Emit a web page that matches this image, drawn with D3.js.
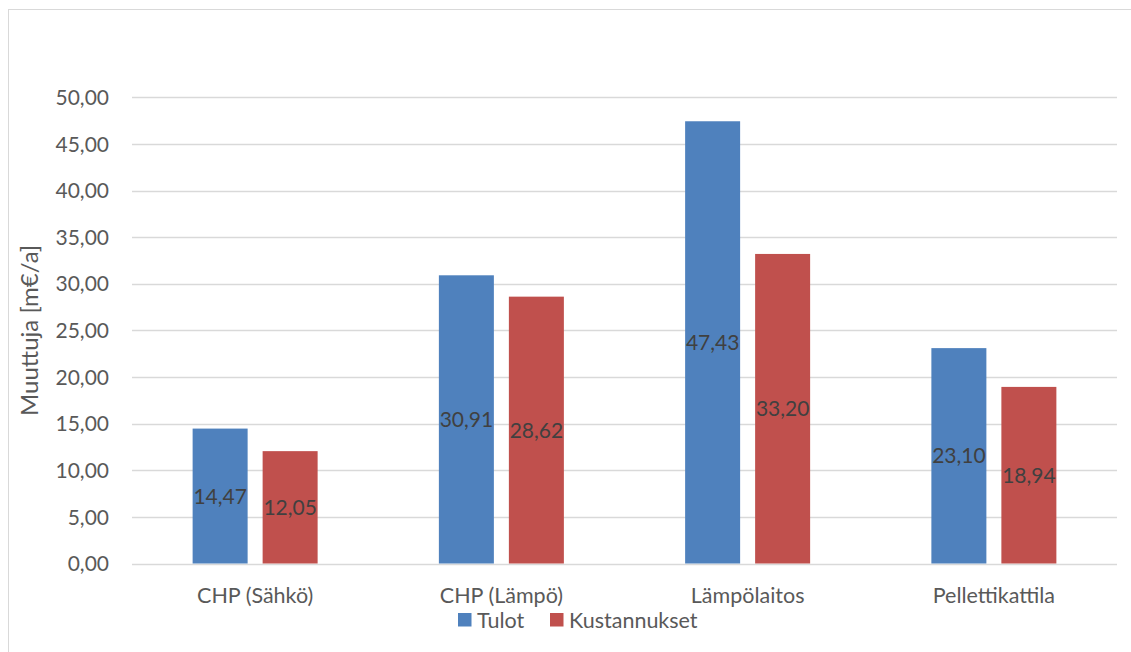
<!DOCTYPE html>
<html>
<head>
<meta charset="utf-8">
<script src="https://cdn.jsdelivr.net/npm/d3@7"></script>
<style>
  html, body { margin: 0; padding: 0; background: #fff; }
  svg { display: block; }
  text { font-family: Lato, "Open Sans", sans-serif; }
</style>
</head>
<body>
<svg id="chart" width="1131" height="652"></svg>
<script>
// Revenue vs. cost per production unit (m€/a)
const categories = ["CHP (Sähkö)", "CHP (Lämpö)", "Lämpölaitos", "Pellettikattila"];
const seriesNames = ["Tulot", "Kustannukset"];
const tulot = [14.47, 30.91, 47.43, 23.10];
const kustannukset = [12.05, 28.62, 33.20, 18.94];
const yTicks = [0, 5, 10, 15, 20, 25, 30, 35, 40, 45, 50];
const colors = ["#4F81BD", "#C0504D"];

const svg = d3.select("#chart");
const W = 1131, H = 652;

// chart frame
svg.append("rect")
  .attr("x", 8.5).attr("y", 9.5)
  .attr("width", W + 10).attr("height", H + 10)
  .attr("fill", "#fff").attr("stroke", "#D9D9D9").attr("stroke-width", 1);

const plot = { left: 132, right: 1117, top: 97.3, bottom: 563.5 };

const x0 = d3.scaleBand()
  .domain(categories)
  .range([plot.left, plot.right])
  .paddingInner(0).paddingOuter(0);

const y = d3.scaleLinear().domain([0, 50]).range([plot.bottom, plot.top]);

// bar geometry inside each category slot
const barW = 55, barGap = 15;
const x1 = d3.scaleOrdinal()
  .domain(seriesNames)
  .range([-(barW + barGap / 2), barGap / 2]);

const fmt = v => d3.format(".2f")(v).replace(".", ",");

// horizontal gridlines
svg.append("g")
  .selectAll("line")
  .data(yTicks)
  .join("line")
  .attr("x1", plot.left).attr("x2", plot.right)
  .attr("y1", d => Math.round(y(d)) + 0.5)
  .attr("y2", d => Math.round(y(d)) + 0.5)
  .attr("stroke", "#D9D9D9").attr("stroke-width", 1.3);

// y-axis tick labels
const yAxis = d3.axisLeft(y).tickValues(yTicks).tickFormat(fmt).tickSize(0).tickPadding(0);
const yG = svg.append("g").attr("transform", `translate(${plot.left - 23},0)`).call(yAxis);
yG.select(".domain").remove();
yG.selectAll("text")
  .attr("font-size", 21).attr("fill", "#595959")
  .attr("font-family", "Lato, 'Open Sans', sans-serif")
  .attr("dy", "0.34em");

// y-axis title
svg.append("text")
  .attr("transform", `translate(38,${(plot.top + plot.bottom) / 2 - 0}) rotate(-90)`)
  .attr("text-anchor", "middle")
  .attr("font-size", 24).attr("fill", "#595959")
  .text("Muuttuja [m€/a]");

// bars
const rows = categories.map((c, i) => ({ cat: c, vals: [tulot[i], kustannukset[i]] }));
const groups = svg.append("g")
  .selectAll("g")
  .data(rows)
  .join("g")
  .attr("transform", d => `translate(${x0(d.cat) + x0.bandwidth() / 2},0)`);

const bars = groups.selectAll("g.bar")
  .data(d => d.vals.map((v, j) => ({ name: seriesNames[j], v, j })))
  .join("g").attr("class", "bar");

bars.append("rect")
  .attr("x", d => x1(d.name))
  .attr("width", barW)
  .attr("y", d => y(d.v))
  .attr("height", d => y(0) - y(d.v))
  .attr("fill", d => colors[d.j]);

// value labels centred in each bar
bars.append("text")
  .attr("x", d => x1(d.name) + barW / 2)
  .attr("y", d => (y(0) + y(d.v)) / 2)
  .attr("dy", "0.36em")
  .attr("text-anchor", "middle")
  .attr("font-size", 21).attr("fill", "#404040")
  .text(d => fmt(d.v));

// category labels
const xAxis = d3.axisBottom(x0).tickSize(0).tickPadding(0);
const xG = svg.append("g").attr("transform", `translate(0,${plot.bottom})`).call(xAxis);
xG.select(".domain").remove();
xG.selectAll("text")
  .attr("font-size", 21.5).attr("fill", "#595959")
  .attr("font-family", "Lato, 'Open Sans', sans-serif")
  .attr("dy", 0).attr("y", 39);

// legend
const legendItems = [
  { name: seriesNames[0], color: colors[0], x: 458 },
  { name: seriesNames[1], color: colors[1], x: 550 }
];
const lg = svg.append("g").selectAll("g").data(legendItems).join("g")
  .attr("transform", d => `translate(${d.x},613)`);
lg.append("rect").attr("width", 13.5).attr("height", 13.5).attr("fill", d => d.color);
lg.append("text")
  .attr("x", 19).attr("y", 7).attr("dy", "0.36em")
  .attr("font-size", 21.5).attr("fill", "#595959")
  .text(d => d.name);
</script>
</body>
</html>
